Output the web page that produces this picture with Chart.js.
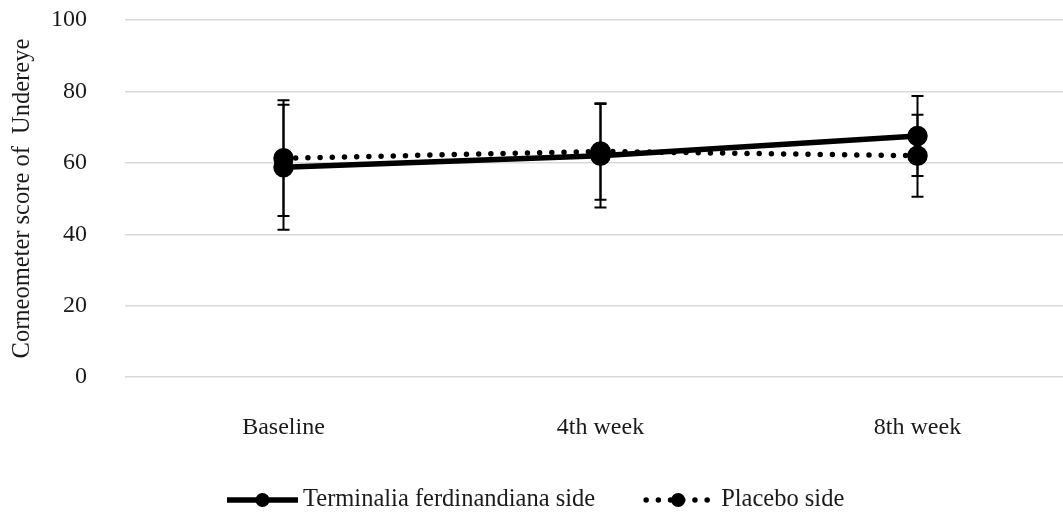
<!DOCTYPE html>
<html>
<head>
<meta charset="utf-8">
<script src="https://cdn.jsdelivr.net/npm/chart.js@4"></script>
<style>
  html, body { margin: 0; padding: 0; background: #fff; }
  #wrap { width: 1063px; height: 514px; }
</style>
</head>
<body>
<div id="wrap"><canvas id="chart"></canvas></div>
<script>
const weeks = ["Baseline", "4th week", "8th week"];
const terminaliaMean = [58.8, 62.0, 67.5];
const terminaliaSd = [17.5, 14.5, 11.2];
const placeboMean = [61.3, 63.2, 62.0];
const placeboSd = [16.2, 13.5, 11.5];
const seriesNames = ["Terminalia ferdinandiana side", "Placebo side"];
const errors = [terminaliaSd, placeboSd];

const serif = '"Liberation Serif", "Times New Roman", serif';
const textColor = "#1a1a1a";

// points on a numeric x axis so the plot can run off the right edge like the original
const toPoints = (arr) => arr.map((v, i) => ({ x: i, y: v }));

// vertical error bars, +/- sd, drawn through the y scale
const errorBars = {
  id: "errorBars",
  afterDatasetsDraw(chart) {
    const ctx = chart.ctx;
    const y = chart.scales.y;
    chart.data.datasets.forEach((ds, i) => {
      const meta = chart.getDatasetMeta(i);
      errors[i].forEach((sd, j) => {
        const px = meta.data[j].x;
        const top = y.getPixelForValue(ds.data[j].y + sd);
        const bot = y.getPixelForValue(ds.data[j].y - sd);
        ctx.save();
        ctx.strokeStyle = "#000";
        ctx.lineWidth = 2;
        ctx.beginPath();
        ctx.moveTo(px, top); ctx.lineTo(px, bot);
        ctx.moveTo(px - 6, top); ctx.lineTo(px + 6, top);
        ctx.moveTo(px - 6, bot); ctx.lineTo(px + 6, bot);
        ctx.stroke();
        ctx.restore();
      });
    });
  }
};

// legend like the office one: line sample with marker, then the name
const lineLegend = {
  id: "lineLegend",
  afterDraw(chart) {
    const ctx = chart.ctx;
    const sampleW = [71, 70];
    const gapText = [5, 8];
    const gapItem = 48, cy = 500;
    ctx.save();
    ctx.font = "24.5px " + serif;
    const widths = seriesNames.map(t => ctx.measureText(t).width);
    let x = 227;
    chart.data.datasets.forEach((ds, i) => {
      ctx.strokeStyle = "#000";
      ctx.lineWidth = ds.borderWidth;
      ctx.lineCap = ds.borderCapStyle || "butt";
      ctx.setLineDash(ds.borderDash || []);
      ctx.beginPath();
      ctx.moveTo(x + (ds.borderDash ? 3 : 0), cy);
      ctx.lineTo(x + sampleW[i], cy);
      ctx.stroke();
      ctx.setLineDash([]);
      ctx.fillStyle = "#000";
      ctx.beginPath();
      ctx.arc(x + sampleW[i] / 2, cy, 7, 0, Math.PI * 2);
      ctx.fill();
      x += sampleW[i] + gapText[i];
      ctx.fillStyle = textColor;
      ctx.textBaseline = "middle";
      ctx.fillText(seriesNames[i], x, cy);
      x += widths[i] + gapItem;
    });
    ctx.restore();
  }
};

new Chart(document.getElementById("chart"), {
  type: "line",
  data: {
    datasets: [
      {
        label: seriesNames[0],
        data: toPoints(terminaliaMean),
        borderColor: "#000",
        backgroundColor: "#000",
        borderWidth: 5.5,
        pointRadius: 7.5,
        pointHoverRadius: 7.5,
        tension: 0,
      },
      {
        label: seriesNames[1],
        data: toPoints(placeboMean),
        borderColor: "#000",
        backgroundColor: "#000",
        borderWidth: 5.5,
        borderDash: [0, 12.2],
        borderCapStyle: "round",
        pointRadius: 7.5,
        pointHoverRadius: 7.5,
        tension: 0,
      },
    ],
  },
  options: {
    responsive: true,
    maintainAspectRatio: false,
    animation: false,
    layout: {
      autoPadding: false,
      padding: { top: 20, right: 0, bottom: 72, left: 0 },
    },
    scales: {
      x: {
        type: "linear",
        min: -0.5,
        max: 2.459,
        grid: {
          display: true,
          drawOnChartArea: false,
          drawTicks: true,
          tickLength: 36,
          tickColor: "rgba(0,0,0,0)",
        },
        border: { display: false },
        ticks: {
          stepSize: 1,
          autoSkip: false,
          maxRotation: 0,
          padding: 0,
          color: textColor,
          font: { family: serif, size: 24 },
          callback: (v) => (Number.isInteger(v) ? weeks[v] : ""),
        },
      },
      y: {
        min: 0,
        max: 100,
        ticks: {
          stepSize: 20,
          padding: 0,
          color: textColor,
          font: { family: serif, size: 24 },
        },
        grid: {
          color: "#d9d9d9",
          lineWidth: 1.5,
          drawTicks: true,
          tickLength: 38,
          tickColor: "rgba(0,0,0,0)",
        },
        border: { display: false },
        title: {
          display: true,
          text: "Corneometer score of  Undereye",
          color: textColor,
          font: { family: serif, size: 24.5 },
          padding: { top: 8.3, bottom: 0 },
        },
        afterFit(scale) {
          scale.width = 125;
        },
      },
    },
    plugins: {
      legend: { display: false },
      tooltip: { enabled: false },
    },
  },
  plugins: [errorBars, lineLegend],
});
</script>
</body>
</html>
